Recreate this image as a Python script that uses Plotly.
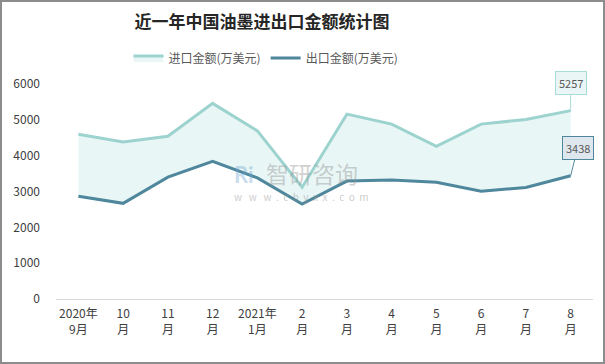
import plotly.graph_objects as go

categories = ["2020年<br>9月", "10<br>月", "11<br>月", "12<br>月", "2021年<br>1月", "2<br>月",
              "3<br>月", "4<br>月", "5<br>月", "6<br>月", "7<br>月", "8<br>月"]
import_values = [4600, 4380, 4540, 5460, 4690, 3120, 5160, 4880, 4260, 4880, 5010, 5257]
export_values = [2870, 2670, 3400, 3840, 3380, 2650, 3290, 3320, 3260, 3010, 3110, 3438]
series_names = ["进口金额(万美元)", "出口金额(万美元)"]
y_ticks = [0, 1000, 2000, 3000, 4000, 5000, 6000]

IMP = "#9dd3cf"
EXP = "#4f879c"
FONT = "Noto Sans CJK SC"

W, H = 605, 364
ML, MR, MT, MB = 56, 12, 84, 65
pw, ph = W - ML - MR, H - MT - MB


def px(x):
    return (x - ML) / pw


def py(y):
    return (H - MB - y) / ph


fig = go.Figure()
fig.add_trace(go.Scatter(x=categories, y=export_values, name=series_names[1], mode="lines",
                         line=dict(color=EXP, width=3), legendrank=2, hoverinfo="skip"))
fig.add_trace(go.Scatter(x=categories, y=import_values, name=series_names[0], mode="lines",
                         line=dict(color=IMP, width=3), fill="tonexty",
                         fillcolor="rgba(206,235,235,0.45)", legendrank=1, hoverinfo="skip"))

fig.add_annotation(x=categories[-1], y=import_values[-1], text=str(import_values[-1]),
                   showarrow=True, ax=0, ay=-28, arrowhead=0, arrowwidth=1, arrowcolor="#a8dcd7",
                   bgcolor="#eaf6f6", bordercolor="#a8dcd7", borderwidth=1, borderpad=3,
                   font=dict(family=FONT, size=11, color="#595959"))
fig.add_annotation(x=categories[-1], y=export_values[-1], text=str(export_values[-1]),
                   showarrow=True, ax=7, ay=-28, arrowhead=0, arrowwidth=1, arrowcolor=EXP,
                   bgcolor="#dfe7ee", bordercolor=EXP, borderwidth=1, borderpad=3,
                   font=dict(family=FONT, size=11, color="#595959"))

# watermark
fig.add_annotation(x=px(244), y=py(174), xref="paper", yref="paper",
                   text="<b>Ri</b>", showarrow=False, xanchor="center", yanchor="middle",
                   font=dict(family="Lato", size=22, color="rgba(110,165,210,0.4)"))
fig.add_annotation(x=px(264), y=py(173), xref="paper", yref="paper",
                   text="智研咨询", showarrow=False, xanchor="left", yanchor="middle",
                   font=dict(family=FONT, size=23, color="rgba(150,150,150,0.45)"))
fig.add_annotation(x=px(232), y=py(196), xref="paper", yref="paper",
                   text="w   w   w  .  c  h  y  x  x  .  c  o  m", showarrow=False, xanchor="left",
                   yanchor="middle",
                   font=dict(family=FONT, size=10, color="rgba(150,150,150,0.5)"))

fig.add_shape(type="rect", xref="paper", yref="paper",
              x0=px(1), x1=px(W - 1), y0=py(H - 1), y1=py(1),
              line=dict(color="#8c8c8c", width=2), layer="below")

fig.update_layout(
    width=W, height=H,
    margin=dict(l=ML, r=MR, t=MT, b=MB),
    paper_bgcolor="white", plot_bgcolor="white",
    title=dict(text="<b>近一年中国油墨进出口金额统计图</b>", x=262 / W, xanchor="center", y=1 - 22 / H,
               yanchor="middle", font=dict(family=FONT, size=17, color="#262626")),
    legend=dict(orientation="h", x=px(266), xanchor="center", y=py(58), yanchor="middle",
                font=dict(family=FONT, size=12, color="#595959"), itemwidth=30, traceorder="normal"),
    showlegend=True,
    hovermode=False,
    font=dict(family=FONT, size=12, color="#404040"),
)
fig.update_xaxes(type="category", range=[-0.5, 11.5], showgrid=False, showline=True,
                 linecolor="#d9d9d9", linewidth=1, ticks="", tickfont=dict(size=12, color="#404040"),
                 ticklabelstandoff=4)
fig.update_yaxes(range=[0, 6000], tickvals=y_ticks, showgrid=False, zeroline=False, showline=False,
                 tickfont=dict(size=12, color="#404040"), ticklabelstandoff=15)

fig.write_html("out.html", config={"displayModeBar": False},
               post_script="document.body.style.margin='0';")
